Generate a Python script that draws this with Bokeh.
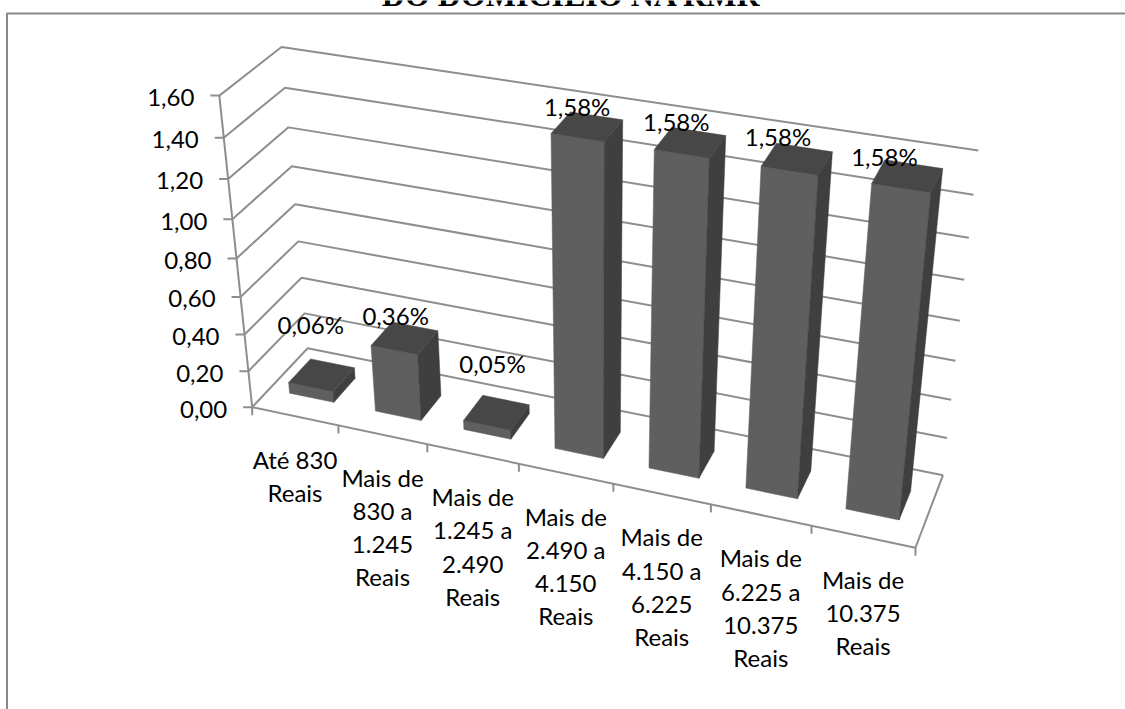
import numpy as np
from bokeh.core.properties import value
from bokeh.embed import file_html
from bokeh.plotting import figure
from bokeh.resources import INLINE

categories = [
    "Até 830\nReais",
    "Mais de\n830 a\n1.245\nReais",
    "Mais de\n1.245 a\n2.490\nReais",
    "Mais de\n2.490 a\n4.150\nReais",
    "Mais de\n4.150 a\n6.225\nReais",
    "Mais de\n6.225 a\n10.375\nReais",
    "Mais de\n10.375\nReais",
]
shares = [0.06, 0.36, 0.05, 1.58, 1.58, 1.58, 1.58]
y_ticks = [0.0, 0.2, 0.4, 0.6, 0.8, 1.0, 1.2, 1.4, 1.6]
title = "DO DOMICÍLIO NA RMR"

FRONT, SIDE, TOP = "#5f5f5f", "#3f3f3f", "#474747"
RULE = "#8e8e8e"
FONT = "Lato"

# Camera calibration: scene point (category, value, depth) -> page pixel.
calibration = [
    ((0, 0, 0), (252, 406)), ((1, 0, 0), (338, 426)), ((2, 0, 0), (427, 444)),
    ((3, 0, 0), (518, 463)), ((4, 0, 0), (613, 484)), ((5, 0, 0), (710, 504)),
    ((6, 0, 0), (811, 525)), ((7, 0, 0), (915, 547)),
    ((0, 0.2, 0), (248, 371)), ((0, 0.4, 0), (245, 333)), ((0, 0.6, 0), (240, 297)),
    ((0, 0.8, 0), (236, 258)), ((0, 1.0, 0), (232, 218)), ((0, 1.2, 0), (227.5, 179)),
    ((0, 1.4, 0), (223, 137)), ((0, 1.6, 0), (218, 95)),
    ((0, 0, 1), (307, 348)), ((0, 0.2, 1), (303, 313)), ((0, 0.4, 1), (301, 277)),
    ((0, 0.6, 1), (298, 241)), ((0, 0.8, 1), (295, 203)), ((0, 1.0, 1), (292, 166)),
    ((0, 1.2, 1), (287.5, 127)), ((0, 1.4, 1), (284, 87)), ((0, 1.6, 1), (282, 47)),
    ((7, 0, 1), (942, 475)), ((7, 0.2, 1), (947, 437)), ((7, 0.4, 1), (951, 399)),
    ((7, 1.0, 1), (964, 279)), ((7, 1.2, 1), (968, 237)), ((7, 1.4, 1), (973, 194)),
    ((7, 1.6, 1), (978, 151)),
]


def fit_camera(points):
    rows, rhs = [], []
    for (x, y, z), (u, v) in points:
        rows.append([x, y, z, 1, 0, 0, 0, 0, -u * x, -u * y, -u * z])
        rows.append([0, 0, 0, 0, x, y, z, 1, -v * x, -v * y, -v * z])
        rhs += [u, v]
    sol = np.linalg.lstsq(np.array(rows, float), np.array(rhs, float), rcond=None)[0]
    return np.append(sol, 1.0).reshape(3, 4)


CAM = fit_camera(calibration)


def project(x, y, z):
    u, v, w = CAM @ np.array([x, y, z, 1.0])
    return float(u / w), float(v / w)


p = figure(
    width=1125, height=709, x_range=(0, 1125), y_range=(709, 0),
    output_backend="svg", toolbar_location=None, min_border=0,
    outline_line_color=None, background_fill_color="white",
)
p.axis.visible = False
p.grid.visible = False

# Chart frame: only the top and left edges fall inside the page.
p.line([6.5, 6.5, 1125], [709, 13, 13], line_color="#888888", line_width=2)

# Title, cut by the top edge of the page.
p.text([571], [-6], text=[title], text_align="center", text_baseline="alphabetic",
       text_font=value("Liberation Serif"), text_font_style="bold",
       text_font_size="32px", text_color="black")

# Walls: gridlines on the side wall and the back wall.
xs, ys = [], []
for t in y_ticks:
    a, b, c = project(0, t, 0), project(0, t, 1), project(7, t, 1)
    xs.append([a[0], b[0], c[0]])
    ys.append([a[1], b[1], c[1]])

# Floor edges and the value axis.
corner = [project(0, 0, 0), project(7, 0, 0), project(7, 0, 1)]
xs.append([c[0] for c in corner])
ys.append([c[1] for c in corner])
bottom, summit = project(0, 0, 0), project(0, y_ticks[-1], 0)
xs.append([bottom[0], summit[0]])
ys.append([bottom[1], summit[1]])

# Tick marks on both axes.
for t in y_ticks:
    u, v = project(0, t, 0)
    xs.append([u - 9, u])
    ys.append([v, v])
for i in range(len(categories) + 1):
    u, v = project(i, 0, 0)
    xs.append([u, u])
    ys.append([v, v + 8])
p.multi_line(xs, ys, line_color=RULE, line_width=2)

# Value-axis labels.
tx, ty, tt = [], [], []
for t in y_ticks:
    u, v = project(0, t, 0)
    tx.append(u - 25)
    ty.append(v + 2)
    tt.append(f"{t:.2f}".replace(".", ","))
p.text(tx, ty, text=tt, text_align="right", text_baseline="middle",
       text_font=value(FONT), text_font_size="24px", text_color="black")

# Category labels, hanging below the front floor edge.
cx, cy = [], []
for i in range(len(categories)):
    u, v = project(i + 0.5, 0, 0)
    cx.append(u)
    cy.append(v + 28.5)
p.text(cx, cy, text=categories, text_align="center", text_baseline="top",
       text_font=value(FONT), text_font_size="24px", text_color="black",
       text_line_height=1.14)

# Columns: front, right side and top faces.
GAP, NEAR, FAR = 0.24, 0.3, 0.7
for face, colour in (("front", FRONT), ("side", SIDE), ("top", TOP)):
    fx, fy = [], []
    for i, h in enumerate(shares):
        l, r = i + GAP, i + 1 - GAP
        quad = {
            "front": [(l, 0, NEAR), (r, 0, NEAR), (r, h, NEAR), (l, h, NEAR)],
            "side": [(r, 0, NEAR), (r, 0, FAR), (r, h, FAR), (r, h, NEAR)],
            "top": [(l, h, NEAR), (r, h, NEAR), (r, h, FAR), (l, h, FAR)],
        }[face]
        pts = [project(*q) for q in quad]
        fx.append([q[0] for q in pts])
        fy.append([q[1] for q in pts])
    p.patches(fx, fy, fill_color=colour, line_color=colour, line_width=0.5)

# Value labels above each column.
label_shift = [(-11, -51), (-9, -23), (-4, -49), (-10, -20), (-14, -21), (-19, -22), (-23, -20)]
lx, ly, lt = [], [], []
for i, h in enumerate(shares):
    u, v = project(i + 0.5, h, 0.5)
    lx.append(u + label_shift[i][0])
    ly.append(v + label_shift[i][1])
    lt.append(f"{h:.2f}".replace(".", ",") + "%")
p.text(lx, ly, text=lt, text_align="center", text_baseline="middle",
       text_font=value(FONT), text_font_size="24px", text_color="black")

open("out.html", "w").write(file_html(p, INLINE))
